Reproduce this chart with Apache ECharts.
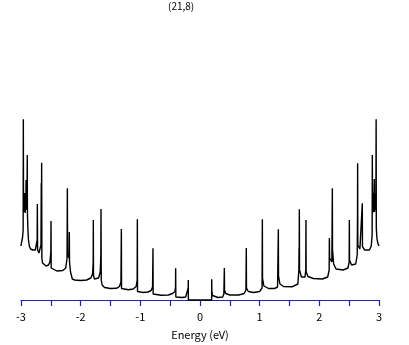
<!DOCTYPE html>
<html>
<head>
<meta charset="utf-8">
<script src="https://cdn.jsdelivr.net/npm/echarts@6/dist/echarts.min.js"></script>
<style>
  html, body { margin: 0; padding: 0; background: #fff; }
  #chart { width: 409px; height: 345px; }
</style>
</head>
<body>
<div id="chart"></div>
<script>
// DOS of the (21,8) tube (arbitrary units)
const title = '(21,8)'
const xTicks = [-3, -2, -1, 0, 1, 2, 3]

const energyNeg = [
  -3.000, -2.990, -2.975, -2.964, -2.961, -2.958, -2.950, -2.945, -2.940, -2.935,
  -2.930, -2.925, -2.920, -2.915, -2.912, -2.905, -2.900, -2.895, -2.892, -2.885,
  -2.875, -2.860, -2.840, -2.800, -2.760, -2.740, -2.729, -2.726, -2.722, -2.715,
  -2.700, -2.680, -2.665, -2.660, -2.657, -2.654, -2.650, -2.640, -2.620, -2.580,
  -2.540, -2.515, -2.500, -2.497, -2.494, -2.480, -2.400, -2.300, -2.250, -2.228,
  -2.223, -2.219, -2.195, -2.190, -2.187, -2.170, -2.140, -2.100, -2.000, -1.900,
  -1.830, -1.800, -1.790, -1.788, -1.785, -1.770, -1.740, -1.700, -1.672, -1.662,
  -1.659, -1.655, -1.640, -1.600, -1.500, -1.400, -1.350, -1.325, -1.318, -1.315,
  -1.290, -1.200, -1.120, -1.070, -1.053, -1.050, -1.047, -1.020, -0.950, -0.870,
  -0.820, -0.795, -0.788, -0.785, -0.760, -0.650, -0.530, -0.460, -0.420, -0.410,
  -0.408, -0.405, -0.380, -0.300, -0.240, -0.210, -0.198, -0.196, -0.195
]
const dosNeg = [
  0.54, 0.58, 0.62, 0.70, 1.807, 1.00, 0.90, 1.05, 0.88, 1.07,
  0.87, 1.04, 0.90, 1.20, 0.95, 1.00, 0.90, 1.45, 0.87, 0.72,
  0.60, 0.54, 0.51, 0.50, 0.50, 0.52, 0.60, 0.96, 0.50, 0.48,
  0.47, 0.48, 0.55, 1.17, 0.65, 1.373, 0.42, 0.37, 0.35, 0.34,
  0.35, 0.38, 0.48, 0.79, 0.32, 0.30, 0.29, 0.295, 0.32, 0.42,
  1.117, 0.45, 0.42, 0.68, 0.38, 0.28, 0.21, 0.20, 0.195, 0.20,
  0.22, 0.26, 0.38, 0.80, 0.25, 0.21, 0.20, 0.22, 0.28, 0.45,
  0.91, 0.20, 0.15, 0.125, 0.115, 0.117, 0.135, 0.18, 0.71, 0.115,
  0.105, 0.102, 0.11, 0.135, 0.20, 0.807, 0.085, 0.077, 0.075, 0.08,
  0.095, 0.13, 0.517, 0.06, 0.05, 0.047, 0.05, 0.065, 0.085, 0.13,
  0.317, 0.03, 0.025, 0.025, 0.03, 0.05, 0.12, 0.20, 0
]

const energyPos = [
  0.195, 0.196, 0.199, 0.210, 0.240, 0.300, 0.380, 0.400, 0.408, 0.411,
  0.430, 0.500, 0.650, 0.740, 0.770, 0.776, 0.779, 0.810, 0.900, 1.000,
  1.040, 1.045, 1.048, 1.070, 1.150, 1.250, 1.300, 1.313, 1.316, 1.340,
  1.400, 1.550, 1.640, 1.657, 1.660, 1.662, 1.665, 1.668, 1.700, 1.760,
  1.773, 1.776, 1.779, 1.810, 1.900, 2.050, 2.140, 2.165, 2.168, 2.172,
  2.210, 2.218, 2.221, 2.240, 2.280, 2.400, 2.480, 2.500, 2.503, 2.506,
  2.540, 2.610, 2.635, 2.640, 2.642, 2.645, 2.680, 2.710, 2.720, 2.723,
  2.760, 2.840, 2.870, 2.885, 2.888, 2.892, 2.897, 2.902, 2.907, 2.912,
  2.917, 2.922, 2.925, 2.930, 2.935, 2.940, 2.948, 2.952, 2.955, 2.965,
  2.980, 3.000
]
const dosPos = [
  0, 0.207, 0.09, 0.045, 0.028, 0.025, 0.03, 0.06, 0.32, 0.10,
  0.065, 0.05, 0.05, 0.065, 0.10, 0.52, 0.12, 0.085, 0.075, 0.085,
  0.12, 0.807, 0.22, 0.14, 0.115, 0.115, 0.13, 0.707, 0.24, 0.16,
  0.135, 0.133, 0.16, 0.30, 0.52, 0.38, 0.907, 0.30, 0.23, 0.23,
  0.30, 0.80, 0.283, 0.235, 0.215, 0.21, 0.23, 0.30, 0.62, 0.42,
  0.38, 1.117, 0.50, 0.36, 0.31, 0.30, 0.32, 0.38, 0.80, 0.40,
  0.35, 0.36, 0.45, 0.85, 1.367, 0.55, 0.51, 0.52, 0.967, 0.533,
  0.50, 0.50, 0.54, 0.65, 1.45, 0.87, 1.05, 0.88, 1.07, 0.90,
  1.04, 1.21, 0.88, 1.06, 0.90, 1.00, 0.95, 1.807, 0.72, 0.62,
  0.567, 0.54
]

const points = energyNeg.map((e, i) => [e, dosNeg[i]])
  .concat(energyPos.map((e, i) => [e, dosPos[i]]))

const axisBlue = '#2222b8'
const font = '"Noto Sans CJK JP", "DejaVu Sans", sans-serif'

const chart = echarts.init(document.getElementById('chart'))
chart.setOption({
  animation: false,
  backgroundColor: '#fff',
  title: {
    text: title,
    left: 168,
    top: 1,
    padding: 0,
    textStyle: { fontSize: 10, fontWeight: 'normal', color: '#000', fontFamily: font }
  },
  grid: { left: 21, right: 30, top: 100, bottom: 44.5 },
  xAxis: {
    type: 'value',
    min: -3,
    max: 3,
    interval: 0.5,
    name: 'Energy (eV)',
    nameLocation: 'middle',
    nameGap: 29,
    nameTextStyle: { fontSize: 11, color: '#000', fontFamily: font },
    axisLine: { lineStyle: { color: axisBlue, width: 1.2 } },
    axisTick: { length: 6, lineStyle: { color: axisBlue, width: 1.2 } },
    axisLabel: {
      margin: 11,
      fontSize: 11,
      color: '#000',
      fontFamily: font,
      formatter: v => (xTicks.includes(v) ? String(v) : '')
    },
    splitLine: { show: false }
  },
  yAxis: {
    type: 'value',
    min: 0,
    max: 2,
    show: false
  },
  series: [
    {
      type: 'line',
      data: points,
      showSymbol: false,
      clip: false,
      lineStyle: { color: '#000', width: 1.4 }
    }
  ]
})
</script>
</body>
</html>
